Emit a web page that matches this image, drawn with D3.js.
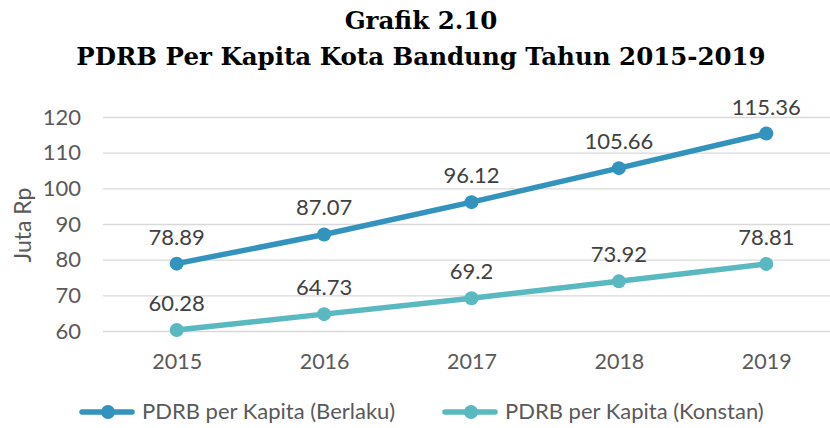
<!DOCTYPE html>
<html><head><meta charset="utf-8">
<script src="https://cdn.jsdelivr.net/npm/d3@7"></script>
<style>body{margin:0;background:#fff;} svg{display:block;}</style>
</head><body>
<svg id="c" width="830" height="428"></svg>
<script>
const years = ["2015","2016","2017","2018","2019"];
const berlaku = [78.89, 87.07, 96.12, 105.66, 115.36];
const konstan = [60.28, 64.73, 69.2, 73.92, 78.81];
const berlakuLabels = ["78.89","87.07","96.12","105.66","115.36"];
const konstanLabels = ["60.28","64.73","69.2","73.92","78.81"];
const yTicks = [60,70,80,90,100,110,120];
const seriesNames = ["PDRB per Kapita (Berlaku)","PDRB per Kapita (Konstan)"];
const colors = ["#3393bd","#5ab8c1"];

const svg = d3.select("#c");
const font = "Lato, 'Open Sans', sans-serif";
const x = d3.scalePoint().domain(years).range([103,840]).padding(0.5);
const y = d3.scaleLinear().domain([60,120]).range([331,117]);

svg.append("text").attr("x",421).attr("y",29).attr("text-anchor","middle")
  .attr("font-family","'DejaVu Serif', serif").attr("font-weight","bold").attr("font-size",24.5).attr("fill","#000").text("Grafik 2.10");
svg.append("text").attr("x",421).attr("y",65).attr("text-anchor","middle")
  .attr("font-family","'DejaVu Serif', serif").attr("font-weight","bold").attr("font-size",24.5).attr("fill","#000").text("PDRB Per Kapita Kota Bandung Tahun 2015-2019");

const ya = svg.append("g").attr("transform","translate(103,0)")
  .call(d3.axisLeft(y).tickValues(yTicks).tickSize(-740).tickPadding(22));
ya.select(".domain").remove();
ya.selectAll(".tick line").attr("stroke","#d9d9d9").attr("stroke-width",1.3);
ya.selectAll(".tick text").attr("font-family",font).attr("font-size",22).attr("fill","#595959");

const xa = svg.append("g").attr("transform","translate(0,331)")
  .call(d3.axisBottom(x).tickSize(0).tickPadding(23));
xa.select(".domain").remove();
xa.selectAll(".tick text").attr("font-family",font).attr("font-size",21.5).attr("fill","#595959");

svg.append("text").attr("transform","translate(31,225) rotate(-90)").attr("text-anchor","middle")
  .attr("font-family",font).attr("font-size",23).attr("fill","#595959").text("Juta Rp");

const series = [berlaku, konstan];
const labels = [berlakuLabels, konstanLabels];
const line = d3.line().x((d,i)=>x(years[i])).y(d=>y(d));
series.forEach((s,k)=>{
  svg.append("path").datum(s).attr("d",line).attr("fill","none").attr("stroke",colors[k]).attr("stroke-width",5.5).attr("stroke-linecap","round");
  svg.selectAll(null).data(s).enter().append("circle")
    .attr("cx",(d,i)=>x(years[i])).attr("cy",d=>y(d)).attr("r",7).attr("fill",colors[k]);
  svg.selectAll(null).data(s).enter().append("text")
    .attr("x",(d,i)=>x(years[i])).attr("y",d=>y(d)-19).attr("text-anchor","middle")
    .attr("font-family",font).attr("font-size",22).attr("fill","#404040").text((d,i)=>labels[k][i]);
});

const leg = [82, 445];
leg.forEach((x0,k)=>{
  svg.append("line").attr("x1",x0).attr("x2",x0+50).attr("y1",412).attr("y2",412).attr("stroke",colors[k]).attr("stroke-width",5.5).attr("stroke-linecap","round");
  svg.append("circle").attr("cx",x0+26).attr("cy",412).attr("r",7).attr("fill",colors[k]);
  svg.append("text").attr("x",x0+60).attr("y",419).attr("font-family",font).attr("font-size",22).attr("fill","#595959").text(seriesNames[k]);
});
</script>
</body></html>
